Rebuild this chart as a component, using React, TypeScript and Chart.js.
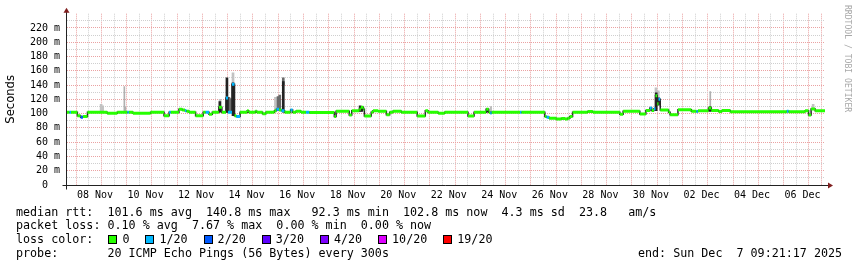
import React, { useEffect, useRef } from 'react';
import { Chart, registerables } from 'chart.js';

Chart.register(...registerables);

// Time axis unit: days, where 8.0 = 08 Nov 00:00 and 31.0 = 01 Dec 00:00
const X_START = 7.3898;
const X_END = 37.3898;
const Y_MAX = 240;

const xLabelDays = [8, 10, 12, 14, 16, 18, 20, 22, 24, 26, 28, 30, 32, 34, 36];
const xLabels = ['08 Nov', '10 Nov', '12 Nov', '14 Nov', '16 Nov', '18 Nov', '20 Nov', '22 Nov', '24 Nov', '26 Nov', '28 Nov', '30 Nov', '02 Dec', '04 Dec', '06 Dec'];

const yTickValues = [0, 20, 40, 60, 80, 100, 120, 140, 160, 180, 200, 220];
const yTickLabels = ['0  ', '20 m', '40 m', '60 m', '80 m', '100  ', '120 m', '140 m', '160 m', '180 m', '200 m', '220 m'];

const lossThresholds = [0, 1, 2, 3, 4, 10, 19];
const lossLabels = ['0', '1/20', '2/20', '3/20', '4/20', '10/20', '19/20'];
const lossColors = ['#26ff00', '#00b8ff', '#0059ff', '#5e00ff', '#7e00ff', '#dd00ff', '#ff0000'];

// median rtt (ms): segment start time, value, lost pings (of 20)
const medStart = [7.39, 7.49, 7.55, 7.80, 7.93, 8.02, 8.20, 8.98, 9.38, 9.78, 9.84, 10.00, 10.70, 11.23, 11.43, 11.50, 11.82, 11.95, 12.06, 12.12, 12.22, 12.48, 12.78, 12.88, 13.01, 13.14, 13.40, 13.52, 13.68, 13.76, 13.92, 14.02, 14.09, 14.24, 14.52, 14.58, 14.85, 14.90, 15.13, 15.26, 15.60, 15.68, 15.78, 15.88, 16.00, 16.24, 16.32, 16.45, 16.65, 16.85, 16.98, 17.97, 18.04, 18.56, 18.66, 18.96, 19.02, 19.12, 19.16, 19.43, 19.50, 19.70, 20.03, 20.16, 20.29, 20.62, 21.25, 21.57, 21.68, 22.08, 22.34, 23.26, 23.50, 23.98, 24.08, 24.14, 24.20, 25.32, 25.38, 26.30, 26.37, 26.47, 26.75, 26.95, 27.10, 27.20, 27.29, 27.40, 28.00, 28.20, 29.27, 29.40, 30.06, 30.30, 30.46, 30.53, 30.62, 30.68, 30.75, 30.80, 30.87, 31.20, 31.26, 31.57, 32.10, 32.30, 32.36, 32.78, 32.89, 33.18, 33.31, 33.64, 35.88, 35.95, 36.60, 36.74, 36.84, 37.00];
const medValue = [102, 102, 102, 97, 95, 96, 102, 100.5, 102, 102, 102, 100.5, 102, 97, 102, 102, 106, 105, 104, 103.5, 102, 97, 102, 102, 99, 102, 109, 102, 122, 102, 141, 97, 96, 102, 104, 102, 103.5, 102, 100, 102, 104, 106, 105, 104, 102, 105, 102, 103.5, 102, 102, 101.5, 96, 103.5, 98, 104, 106, 109, 106, 96.5, 102, 104, 103.5, 98.5, 102, 103.5, 102, 96.5, 104, 102, 100.5, 102, 96.5, 102, 106, 102, 101, 102, 102, 102, 96, 95, 93.5, 92.5, 93, 92.3, 93.5, 96, 102, 103, 102, 99, 103.5, 99.5, 104.5, 108, 104.5, 107, 125, 114, 120, 105, 102, 98.5, 105.5, 103.5, 103, 104, 108, 104.5, 103, 104.5, 102.5, 103.5, 102.5, 104, 98, 106.5, 104];
const medLoss = [0, 1, 0, 0, 2, 0, 0, 0, 0, 1, 0, 0, 0, 0, 1, 0, 0, 0, 1, 0, 0, 0, 0, 1, 0, 0, 0, 0, 1, 1, 1, 0, 1, 0, 0, 0, 0, 0, 0, 0, 0, 1, 0, 1, 0, 1, 0, 0, 0, 1, 0, 0, 0, 0, 0, 0, 0, 0, 0, 0, 0, 0, 0, 0, 0, 0, 0, 0, 0, 0, 0, 0, 0, 0, 0, 1, 0, 1, 0, 0, 1, 0, 0, 0, 0, 0, 0, 0, 0, 0, 0, 0, 0, 0, 1, 0, 1, 0, 0, 1, 0, 0, 0, 0, 0, 1, 0, 0, 0, 0, 0, 0, 1, 0, 0, 0, 0, 0];

// smoke (ping spread) bars: time, low, high (ms)
const smokeDarkT = [13.44, 13.72, 13.96, 15.95, 18.99, 19.06, 24.02, 30.71, 30.80, 32.84];
const smokeDarkLow = [102, 102, 97, 102, 103, 103, 102, 104, 112, 103];
const smokeDarkHigh = [117, 150, 143, 145, 111, 110, 107, 129, 122, 110];

const smokeMidT = [13.80, 13.86, 15.74, 15.81, 15.95];
const smokeMidLow = [102, 102, 104, 104, 140];
const smokeMidHigh = [123, 121, 124, 126, 150];

const smokeLightT = [8.74, 8.80, 13.45, 13.96, 15.64, 30.70, 30.79, 36.92];
const smokeLightLow = [102, 102, 108, 141, 104, 125, 120, 106];
const smokeLightHigh = [113, 111, 120, 157, 123, 136, 132, 113];

const smokeThinT = [9.66, 9.70, 24.17, 32.85];
const smokeThinLow = [102, 102, 101, 108];
const smokeThinHigh = [138, 109, 110, 131];

const statRtt = 'median rtt:  101.6 ms avg  140.8 ms max   92.3 ms min  102.8 ms now  4.3 ms sd  23.8   am/s';
const statLoss = 'packet loss: 0.10 % avg  7.67 % max  0.00 % min  0.00 % now';
const lossTitle = 'loss color:';
const probeText = 'probe:       20 ICMP Echo Pings (56 Bytes) every 300s';
const endText = 'end: Sun Dec  7 09:21:17 2025';
const watermark = 'RRDTOOL / TOBI OETIKER';

const MONO = "'DejaVu Sans Mono', monospace";
const MAJOR = '#eaa2a2';
const MINOR = '#cfcfcf';
const AXIS = '#222222';
const ARROW = '#801f1f';
const EDGE = '#262626';

function lossColor(n: number) {
  let c = lossColors[0];
  for (let i = 0; i < lossThresholds.length; i++) if (n >= lossThresholds[i]) c = lossColors[i];
  return c;
}

function bars(t: number[], lo: number[], hi: number[]) {
  return t.map((x, i) => ({ x, y: [lo[i], hi[i]] }));
}

const axesPlugin = {
  id: 'rrdAxes',
  afterDraw(chart: any) {
    const { ctx, chartArea } = chart;
    const { left, right, top, bottom } = chartArea;
    const ax = Math.round(left) - 0.5;
    const ay = Math.round(bottom) + 0.5;
    ctx.save();
    ctx.strokeStyle = AXIS;
    ctx.lineWidth = 1;
    ctx.beginPath();
    ctx.moveTo(ax - 4, ay);
    ctx.lineTo(right + 3, ay);
    ctx.moveTo(ax, ay + 4);
    ctx.lineTo(ax, top - 3);
    ctx.stroke();
    ctx.fillStyle = ARROW;
    ctx.beginPath();
    ctx.moveTo(ax - 3, top - 1);
    ctx.lineTo(ax + 3, top - 1);
    ctx.lineTo(ax, top - 6);
    ctx.closePath();
    ctx.fill();
    ctx.beginPath();
    ctx.moveTo(right + 3, ay - 3);
    ctx.lineTo(right + 3, ay + 3);
    ctx.lineTo(right + 8, ay);
    ctx.closePath();
    ctx.fill();
    ctx.restore();
  },
};

export default function App() {
  const ref = useRef<HTMLCanvasElement>(null);

  useEffect(() => {
    const canvas = ref.current;
    if (!canvas) return;
    const medPoints: { x: number; y: number; loss: number }[] = [];
    for (let i = 0; i < medStart.length; i++) {
      const end = i + 1 < medStart.length ? medStart[i + 1] : X_END;
      medPoints.push({ x: medStart[i], y: medValue[i], loss: medLoss[i] });
      medPoints.push({ x: end, y: medValue[i], loss: medLoss[i] });
    }
    const barBase = { type: 'bar' as const, grouped: false, borderWidth: 0, borderSkipped: false };
    const chart = new Chart(canvas, {
      type: 'line',
      data: {
        datasets: [
          {
            type: 'line',
            data: medPoints as any,
            borderColor: lossColors[0],
            borderWidth: 3,
            borderCapStyle: 'butt',
            pointRadius: 0,
            tension: 0,
            fill: false,
            order: 0,
            segment: {
              borderColor: (c: any) => {
                const a = medPoints[c.p0DataIndex];
                const b = medPoints[c.p1DataIndex];
                if (a.x === b.x) return 'rgba(0,0,0,0)';
                return lossColor(a.loss);
              },
            },
          } as any,
          {
            type: 'line',
            data: medPoints as any,
            borderColor: EDGE,
            borderWidth: 1.5,
            pointRadius: 0,
            tension: 0,
            fill: false,
            order: 1,
          } as any,
          { ...barBase, data: bars(smokeDarkT, smokeDarkLow, smokeDarkHigh), backgroundColor: '#222222', barThickness: 2, order: 2 } as any,
          { ...barBase, data: bars(smokeMidT, smokeMidLow, smokeMidHigh), backgroundColor: '#6a6a6a', barThickness: 2, order: 3 } as any,
          { ...barBase, data: bars(smokeThinT, smokeThinLow, smokeThinHigh), backgroundColor: '#b0b0b0', barThickness: 1, order: 4 } as any,
          { ...barBase, data: bars(smokeLightT, smokeLightLow, smokeLightHigh), backgroundColor: '#c2c2c2', barThickness: 2, order: 5 } as any,
        ],
      },
      options: {
        responsive: false,
        animation: false,
        devicePixelRatio: 1,
        events: [],
        layout: { padding: { left: 0, right: 32, top: 13.7, bottom: 0 } },
        plugins: { legend: { display: false }, tooltip: { enabled: false } },
        scales: {
          x: {
            type: 'linear',
            min: X_START,
            max: X_END,
            offset: false,
            afterBuildTicks: (s: any) => {
              const t = [];
              for (let d = 7.5; d <= X_END; d += 0.5) t.push({ value: d });
              s.ticks = t;
            },
            afterFit: (s: any) => { s.height = 82; },
            ticks: {
              autoSkip: false,
              maxRotation: 0,
              minRotation: 0,
              padding: 4,
              color: '#000',
              font: { family: MONO, size: 10 },
              callback: (v: any) => {
                const i = xLabelDays.findIndex((d) => Math.abs(d + 0.5 - v) < 1e-6);
                return i >= 0 ? xLabels[i] : '';
              },
            },
            grid: {
              drawTicks: false,
              lineWidth: 1,
              color: (c: any) => {
                const v = c.tick ? c.tick.value : 0;
                return Math.abs(v - Math.round(v)) < 1e-6 ? MAJOR : MINOR;
              },
            },
            border: { display: false, dash: [1, 1] },
          } as any,
          y: {
            type: 'linear',
            min: 0,
            max: Y_MAX,
            afterBuildTicks: (s: any) => {
              const t = [];
              for (let v = 0; v <= Y_MAX; v += 10) t.push({ value: v });
              s.ticks = t;
            },
            afterFit: (s: any) => { s.width = 67; },
            ticks: {
              autoSkip: false,
              padding: 7,
              color: '#000',
              font: { family: MONO, size: 10 },
              callback: (v: any) => {
                const i = yTickValues.indexOf(v);
                return i >= 0 ? yTickLabels[i] : '';
              },
            },
            grid: {
              drawTicks: false,
              lineWidth: 1,
              color: (c: any) => {
                const v = c.tick ? c.tick.value : 0;
                if (v === 0 || v === Y_MAX) return 'rgba(0,0,0,0)';
                return v % 20 === 0 ? MAJOR : MINOR;
              },
            },
            border: { display: false, dash: [1, 1] },
            title: {
              display: true,
              text: 'Seconds',
              color: '#000',
              font: { family: "'DejaVu Sans', sans-serif", size: 11.6 },
              padding: { top: 4, bottom: 0 },
            },
          } as any,
        },
      },
      plugins: [axesPlugin],
    });
    return () => chart.destroy();
  }, []);

  const row = (top: number): React.CSSProperties => ({
    position: 'absolute',
    left: 16,
    top,
    fontFamily: MONO,
    fontSize: '11.7px',
    lineHeight: '14px',
    whiteSpace: 'pre',
    color: '#000',
  });

  return (
    <div style={{ position: 'absolute', left: 0, top: 0, width: 857, height: 267, background: '#fff', overflow: 'hidden' }}>
      <canvas ref={ref} width={857} height={267} style={{ display: 'block', width: 857, height: 267 }} />
      <div style={{ position: 'absolute', left: 842.5, top: 5, writingMode: 'vertical-rl', fontFamily: MONO, fontSize: '8.1px', lineHeight: '10px', color: '#a8a8a8', whiteSpace: 'pre' }}>{watermark}</div>
      <div style={row(204.7)}>{statRtt}</div>
      <div style={row(218.4)}>{statLoss}</div>
      <div style={{ ...row(232.1), display: 'flex', alignItems: 'center' }}>
        <span>{lossTitle}</span>
        <span style={{ display: 'inline-block', width: 15 }} />
        {lossLabels.map((l, i) => (
          <span key={l} style={{ display: 'inline-flex', alignItems: 'center', marginRight: 16 }}>
            <span style={{ display: 'inline-block', width: 9, height: 9, boxSizing: 'border-box', border: '1px solid #000', background: lossColors[i], marginRight: 5 }} />
            <span>{l}</span>
          </span>
        ))}
      </div>
      <div style={row(245.8)}>{probeText}</div>
      <div style={{ ...row(245.8), left: 638 }}>{endText}</div>
    </div>
  );
}
